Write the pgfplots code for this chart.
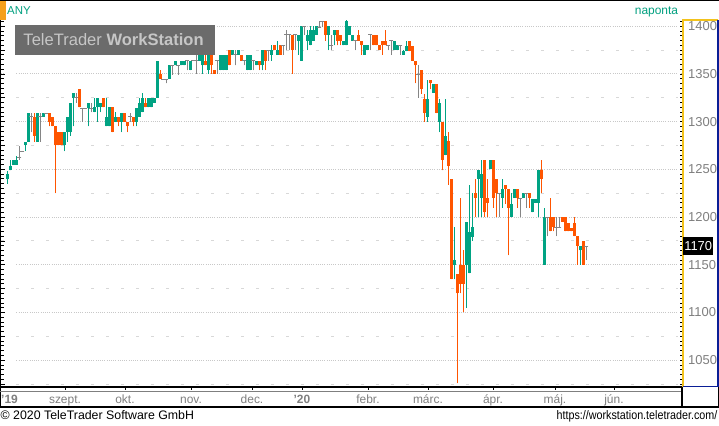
\documentclass[border=0pt]{standalone}
\usepackage{pgfplots}
\pgfplotsset{compat=1.18}
\usepackage{pgfplotstable}
\usepackage{graphicx}
\usepackage{fontspec}
\setmainfont{Liberation Sans}
\definecolor{cup}{HTML}{00A383}
\definecolor{cdn}{HTML}{FF5500}
\definecolor{cgr}{HTML}{858585}
\definecolor{txtg}{HTML}{00A080}
\definecolor{lblg}{HTML}{7F7F7F}
\definecolor{gridc}{HTML}{C8C8C8}
\definecolor{gridd}{HTML}{D8D8D8}
\definecolor{yel}{HTML}{F2C21B}
\definecolor{blu}{HTML}{0A1E96}
\definecolor{mk}{HTML}{F5A01A}
\definecolor{wm}{HTML}{6B6B6B}
\definecolor{wmt}{HTML}{C6C6C6}

\pgfplotstableread{
i o h l c
0 1240 1248 1235 1245
1 1249 1260 1249 1254
2 1255 1260 1255 1260
3 1255 1264 1255 1260
6 1275 1279 1269 1279
7 1279 1309 1279 1309
10 1279 1309 1279 1309
12 1305 1309 1305 1309
19 1275 1289 1269 1289
20 1289 1305 1279 1305
21 1289 1320 1285 1320
22 1325 1330 1295 1330
27 1314 1320 1295 1320
29 1310 1325 1310 1315
30 1315 1325 1300 1325
31 1315 1320 1310 1320
33 1295 1325 1295 1305
34 1295 1315 1295 1315
36 1300 1310 1300 1305
38 1300 1309 1289 1309
43 1300 1314 1295 1314
44 1305 1325 1305 1320
45 1310 1330 1310 1325
47 1315 1325 1315 1325
48 1315 1325 1315 1325
49 1320 1325 1320 1325
50 1325 1364 1325 1364
54 1345 1359 1345 1359
56 1359 1364 1359 1364
58 1359 1364 1359 1364
59 1359 1364 1359 1364
61 1354 1364 1354 1364
64 1364 1375 1364 1370
65 1359 1370 1350 1370
67 1354 1370 1350 1370
71 1354 1370 1354 1370
72 1354 1370 1354 1370
73 1354 1370 1354 1370
75 1370 1375 1370 1375
77 1370 1375 1370 1375
80 1354 1370 1354 1370
81 1354 1370 1354 1370
83 1359 1364 1359 1364
85 1359 1375 1354 1375
88 1370 1380 1364 1375
90 1370 1385 1370 1375
97 1385 1391 1370 1391
98 1364 1400 1364 1400
100 1385 1396 1375 1391
101 1380 1400 1380 1396
102 1385 1400 1385 1396
103 1391 1400 1391 1400
107 1391 1400 1375 1400
109 1391 1396 1380 1396
112 1380 1385 1380 1385
113 1380 1406 1380 1405
114 1391 1400 1391 1400
115 1385 1391 1385 1391
119 1370 1380 1370 1380
120 1375 1380 1375 1380
129 1375 1385 1375 1385
130 1375 1380 1375 1380
132 1370 1375 1370 1374
133 1374 1384 1374 1379
140 1305 1344 1300 1324
142 1330 1339 1330 1339
144 1300 1324 1289 1319
146 1265 1324 1265 1285
149 1150 1190 1135 1155
153 1150 1195 1105 1195
154 1141 1234 1141 1184
155 1179 1225 1175 1190
157 1240 1249 1200 1249
158 1220 1260 1200 1245
161 1250 1260 1250 1260
165 1220 1240 1210 1229
168 1200 1225 1200 1214
169 1220 1229 1220 1229
172 1220 1225 1220 1225
175 1205 1219 1205 1219
176 1215 1219 1215 1219
177 1215 1249 1200 1249
179 1150 1210 1150 1200
191 1165 1170 1150 1170
}\upT

\pgfplotstableread{
i o h l c
9 1305 1309 1279 1285
14 1309 1309 1295 1300
15 1305 1305 1295 1295
16 1295 1295 1225 1275
17 1289 1289 1275 1275
18 1289 1289 1275 1275
24 1334 1334 1315 1315
32 1325 1325 1315 1315
35 1315 1315 1289 1289
37 1305 1305 1295 1300
39 1309 1309 1300 1300
40 1300 1300 1289 1295
42 1305 1305 1295 1300
46 1320 1325 1315 1315
51 1350 1354 1345 1345
66 1364 1370 1359 1359
68 1370 1375 1350 1359
69 1354 1354 1350 1350
74 1375 1375 1359 1359
78 1370 1370 1364 1364
84 1364 1364 1354 1359
86 1375 1375 1354 1364
89 1380 1380 1375 1375
91 1380 1380 1370 1370
95 1391 1391 1350 1375
106 1405 1405 1385 1391
110 1396 1396 1380 1385
111 1391 1391 1380 1385
117 1391 1396 1385 1385
118 1385 1385 1370 1380
122 1391 1391 1380 1380
123 1391 1391 1380 1380
124 1380 1380 1375 1375
125 1385 1385 1370 1380
126 1385 1396 1380 1380
134 1384 1384 1374 1374
135 1379 1379 1364 1364
136 1364 1364 1340 1359
138 1354 1354 1329 1334
139 1324 1329 1300 1309
141 1344 1344 1334 1340
143 1339 1339 1309 1309
145 1300 1300 1249 1260
147 1280 1289 1234 1254
148 1240 1240 1135 1135
150 1140 1140 1026 1120
151 1150 1220 1120 1130
152 1150 1165 1100 1130
156 1225 1240 1200 1220
159 1260 1260 1200 1205
160 1220 1240 1200 1215
162 1260 1260 1210 1220
163 1240 1240 1200 1225
166 1234 1234 1214 1229
167 1229 1229 1160 1210
170 1229 1229 1210 1220
174 1225 1225 1210 1220
178 1249 1260 1225 1240
181 1200 1220 1185 1185
182 1200 1200 1185 1190
185 1200 1200 1195 1195
186 1200 1200 1185 1185
187 1194 1194 1185 1185
188 1189 1189 1185 1185
189 1194 1200 1180 1180
190 1180 1180 1150 1170
192 1175 1175 1150 1150
}\dnT

\pgfplotstableread{
i v h l
4 1262 1274 1260
5 1269 1269 1269
8 1305 1309 1289
11 1305 1309 1279
13 1309 1309 1309
23 1325 1330 1320
25 1314 1314 1300
26 1314 1314 1314
28 1314 1320 1310
41 1305 1309 1300
52 1344 1344 1344
53 1344 1344 1340
55 1359 1359 1349
57 1359 1359 1349
60 1364 1364 1354
62 1364 1364 1364
63 1364 1375 1350
70 1364 1364 1350
76 1370 1375 1359
79 1364 1364 1359
82 1364 1364 1354
87 1375 1375 1364
92 1380 1380 1370
93 1391 1396 1375
94 1391 1391 1375
96 1391 1391 1375
99 1400 1400 1391
104 1399 1405 1399
105 1405 1405 1399
108 1380 1391 1375
116 1385 1385 1375
121 1391 1391 1375
127 1380 1380 1375
128 1385 1385 1370
131 1380 1380 1370
137 1349 1359 1325
164 1225 1225 1200
171 1219 1219 1200
173 1225 1225 1210
180 1200 1200 1180
183 1189 1200 1180
184 1189 1200 1189
193 1169 1169 1155
}\grT

\pgfplotsset{
  candle/.style 2 args={only marks, mark=*, mark size=0pt,
    mark options={draw=none, fill=none},
    error bars/.cd, y dir=plus, y explicit, error mark=none,
    error bar style={draw=#1, line width=#2}},
}

\begin{document}
\begin{tikzpicture}[x=1bp,y=1bp]
\path[use as bounding box] (0,0) rectangle (719,425);
\fill[white] (0,0) rectangle (719,425);
\begin{axis}[
  at={(1bp,38bp)}, anchor=south west,
  scale only axis, width=681bp, height=367bp,
  xmin=-2.11, xmax=224.9, ymin=1021.9, ymax=1406.5,
  axis line style={draw=none},
  tick align=inside,
  ytick pos=both, yticklabel pos=right,
  ytick={1050,1100,...,1400},
  yticklabels={1050,1100,1150,1200,1250,1300,1350,1400},
  minor ytick={1025,1030,...,1405},
  extra y ticks={1025,1075,...,1375},
  extra y tick labels={},
  extra y tick style={ymajorgrids=true, major grid style={draw=gridd, dash pattern=on 3.3bp off 11.7bp, line width=1bp}},
  ymajorgrids,
  major grid style={draw=gridc, dash pattern=on 1bp off 1.2bp, line width=1bp},
  major tick length=4bp, minor tick length=2.5bp,
  every tick/.append style={black, line width=0.8bp},
  yticklabel style={font=\fontsize{13}{13}\selectfont, text=lblg, anchor=west, inner sep=0pt, xshift=6bp},
  xtick={19.22,39.22,61.22,81.56,98.22,120.22,140.22,161.89,182.56,202.22},
  xticklabels={szept.,okt.,nov.,dec.,\textbf{'20},febr.,márc.,ápr.,máj.,jún.},
  xtick style={draw=none},
  xticklabel style={font=\fontsize{12}{12}\selectfont, text=lblg, anchor=base, yshift=-16.5bp},
]
% keep the grid clear of the left tick strip, as in the reference
\fill[white] (axis cs:-0.78,1021.9) rectangle (axis cs:2.56,1406.5);
\fill[white] (axis cs:223.5,1021.9) rectangle (axis cs:224.2,1406.5);
% up candles
\addplot[candle={cup}{1bp}]
  table[x=i, y=l, y error plus expr=\thisrow{h}-\thisrow{l}] {\upT};
\addplot[candle={cup}{3bp}]
  table[x=i, y=o, y error plus expr=\thisrow{c}-\thisrow{o}] {\upT};
% down candles
\addplot[candle={cdn}{1bp}]
  table[x=i, y=l, y error plus expr=\thisrow{h}-\thisrow{l}] {\dnT};
\addplot[candle={cdn}{3bp}]
  table[x=i, y=c, y error plus expr=\thisrow{o}-\thisrow{c}] {\dnT};
% unchanged candles
\addplot[candle={cgr}{1bp}]
  table[x=i, y=l, y error plus expr=\thisrow{h}-\thisrow{l}] {\grT};
\addplot[only marks, mark=-, mark size=2bp, mark options={draw=cgr, line width=1bp}]
  table[x=i, y=v] {\grT};
\end{axis}
% frame and panels
\draw[black, line width=1.4] (0,424.3) -- (719,424.3);
\draw[black, line width=1.2] (0.6,18) -- (0.6,425);
\fill[mk] (0,405) rectangle (5.5,423.6);
\draw[black, line width=1.3] (0,38) -- (682,38);
\draw[lblg, line width=1] (0,34) -- (682,34);
\draw[black, line width=1.3] (0,18) -- (719,18);
\draw[black, line width=1.2] (682,38) -- (682,18);
\draw[black, line width=1.2] (718.4,38) -- (718.4,18);
\foreach \p in {65,125,191,252,302,368,428,493,555,614} \draw[black, line width=0.8] (\p,38) -- (\p,35.5);
\draw[yel, line width=1.2] (683,38) -- (683,405) -- (718,405);
\draw[blu, line width=1.5] (717.9,405) -- (717.9,38.5) -- (682.5,38.5);
\node[fill=black, text=white, inner sep=0pt, minimum width=30bp, minimum height=18bp, anchor=west, font=\fontsize{13}{13}\selectfont] at (683,179.3) {1170};
% header texts
\node[anchor=base west, inner sep=0pt, text=txtg, font=\fontsize{11.5}{11.5}\selectfont] at (7,410) {ANY};
\node[anchor=base east, inner sep=0pt, text=txtg, font=\fontsize{12}{12}\selectfont] at (678.3,410.3) {naponta};
% watermark
\fill[wm] (15,370) rectangle (215,400);
\node[anchor=base west, inner sep=0pt, text=wmt, font=\fontsize{16.6}{16.6}\selectfont] at (23.3,379.3) {TeleTrader \textbf{WorkStation}};
% bottom texts
\node[anchor=base west, inner sep=0pt, text=lblg, font=\bfseries\fontsize{12}{12}\selectfont] at (1,22) {'19};
\node[anchor=base west, inner sep=0pt, font=\fontsize{12.4}{12.4}\selectfont] at (0.5,6) {© 2020 TeleTrader Software GmbH};
\node[anchor=base east, inner sep=0pt] at (717.5,6) {\scalebox{0.87}[1]{\fontsize{12.4}{12.4}\selectfont https://workstation.teletrader.com/}};
\end{tikzpicture}
\end{document}
